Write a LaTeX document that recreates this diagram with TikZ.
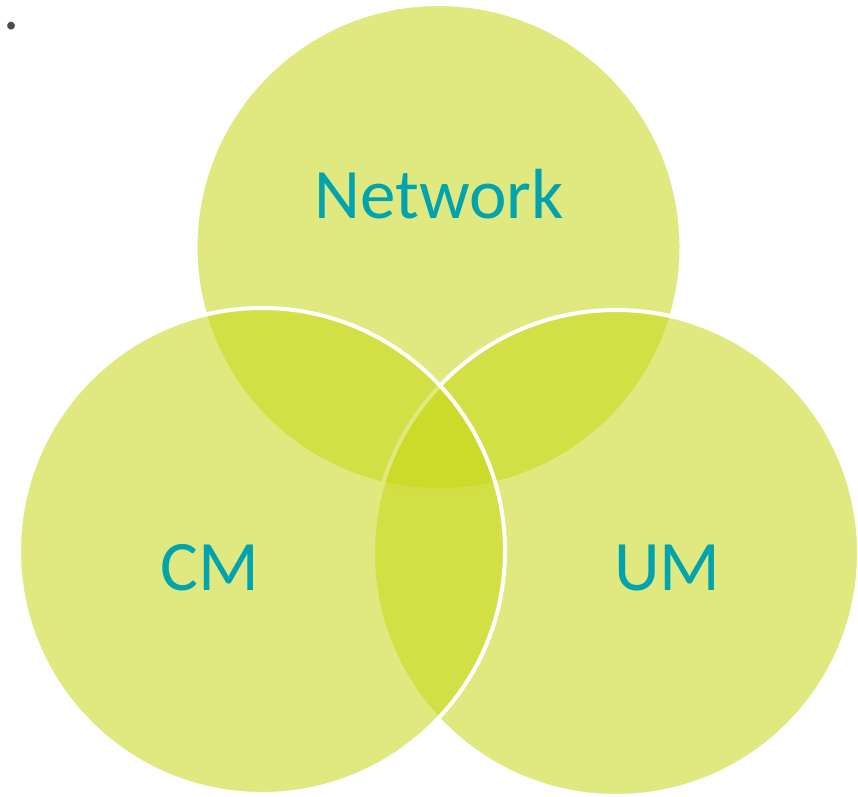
\documentclass[tikz,border=0pt]{standalone}
\usepackage{fontspec}
\setmainfont{Carlito}
\usepackage{xcolor}
\usepackage{tikz}
\usetikzlibrary{positioning}

\definecolor{vennfill}{RGB}{199,215,21}
\definecolor{vennteal}{RGB}{0,163,174}

\begin{document}
\begin{tikzpicture}[
    x=1pt, y=-1pt,
    venn/.style={circle, draw=white, line width=4pt, fill=vennfill, fill opacity=0.55, inner sep=0pt, minimum size=486pt},
    setlabel/.style={anchor=base, inner sep=0pt, text=vennteal, font=\fontsize{71}{85}\selectfont}
]
\useasboundingbox (0,0) rectangle (858,796);

% sets, back to front
\node[venn] (network) at (438.5,247) {};
\node[venn] (um) at (616,553) {};
\node[venn] (cm) at (262,551) {};

% labels
\node[setlabel] (networklabel) at (439,218) {Network};
\node[setlabel] (cmlabel) at (210,590) {CM};
\node[setlabel] (umlabel) at (667.5,590) {UM};

\node[anchor=base west, inner sep=0pt, text=black!70, font=\fontsize{64}{70}\selectfont] (dot) at (3,29) {.};

\end{tikzpicture}
\end{document}
